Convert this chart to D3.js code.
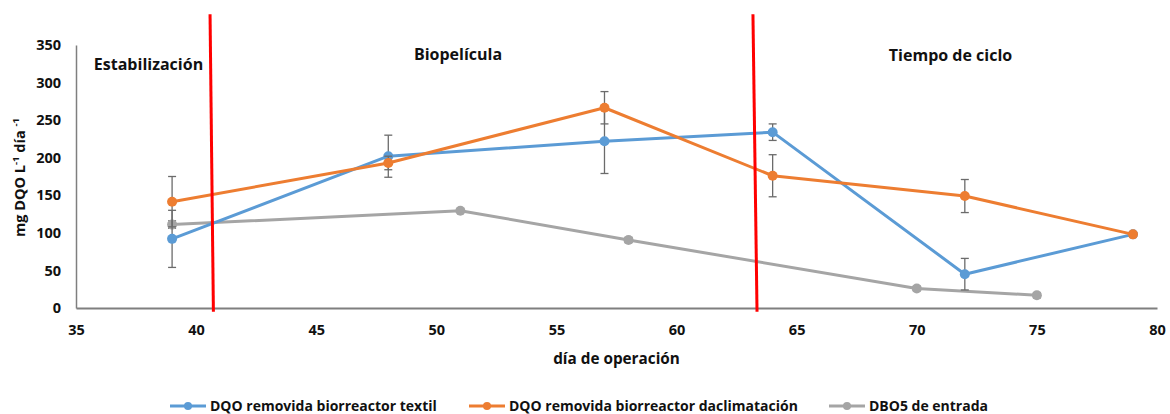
<!DOCTYPE html>
<html>
<head>
<meta charset="utf-8">
<script src="https://cdn.jsdelivr.net/npm/d3@7"></script>
<style>
  html, body { margin: 0; padding: 0; background: #fff; }
  svg { display: block; }
  text { font-family: "Open Sans", "Noto Sans", sans-serif; font-weight: bold; fill: #111; }
</style>
</head>
<body>
<svg id="chart" width="1170" height="414"></svg>
<script>
// Days of operation sampled for each series
const daysTextil = [39, 48, 57, 64, 72, 79];
const daysAclim  = [39, 48, 57, 64, 72, 79];
const daysDbo    = [39, 51, 58, 70, 75];

// COD removed (mg DQO L-1 d-1) and standard deviations
const textil    = [92, 202, 222, 234, 45, 98];
const textilErr = [38, 28, 43, 11, 21, 0];
const aclim     = [141.5, 193, 266.5, 176, 149, 98];
const aclimErr  = [33.5, 9, 21.5, 28, 22, 0];
const dbo       = [111, 129.5, 90.5, 26, 17];
const dboErr    = [5, 2, 3.5, 3, 3.5];

const seriesNames = [
  "DQO removida biorreactor textil",
  "DQO removida biorreactor daclimatación",
  "DBO5 de entrada"
];
const seriesColors = ["#5B9BD5", "#ED7D31", "#A5A5A5"];

const xTicks = [35, 40, 45, 50, 55, 60, 65, 70, 75, 80];
const yTicks = [0, 50, 100, 150, 200, 250, 300, 350];

// Phase boundaries (day at top / day at bottom of the marker line)
const phaseTop    = [40.58, 63.18];
const phaseBottom = [40.72, 63.35];
const phaseNames  = ["Estabilización", "Biopelícula", "Tiempo de ciclo"];

const svg = d3.select("#chart");
const FONT = '"Open Sans", "Noto Sans", sans-serif';

const x = d3.scaleLinear().domain([35, 80]).range([76, 1157]);
const y = d3.scaleLinear().domain([0, 350]).range([308, 45]);

// Axes (lines only, no tick marks)
const xAxis = svg.append("g").attr("transform", `translate(0,${y(0)})`)
  .call(d3.axisBottom(x).tickValues(xTicks).tickSize(0).tickPadding(17));
xAxis.select(".domain").attr("stroke", "#7f7f7f").attr("stroke-width", 2);
xAxis.selectAll("text").attr("font-size", 14.5).attr("fill", "#111")
  .attr("font-family", FONT).attr("font-weight", "bold");

const yAxis = svg.append("g").attr("transform", `translate(${x(35)},0)`)
  .call(d3.axisLeft(y).tickValues(yTicks).tickSize(0).tickPadding(15));
yAxis.select(".domain").attr("stroke", "#7f7f7f").attr("stroke-width", 1.5);
yAxis.selectAll("text").attr("font-size", 14.5).attr("fill", "#111")
  .attr("font-family", FONT).attr("font-weight", "bold");

// Axis titles
svg.append("text").attr("x", (x(35) + x(80)) / 2).attr("y", 364)
  .attr("text-anchor", "middle").attr("font-size", 15.3).text("día de operación");

const yt = svg.append("text")
  .attr("transform", `translate(25,${(y(0) + y(350)) / 2 + 1}) rotate(-90)`)
  .attr("text-anchor", "middle").attr("font-size", 14.5);
yt.append("tspan").text("mg DQO L");
yt.append("tspan").attr("font-size", 9.5).attr("dy", -6).text("-1");
yt.append("tspan").attr("dy", 6).text(" día ");
yt.append("tspan").attr("font-size", 9.5).attr("dy", -6).text("-1");

// Series
const series = [
  { days: daysTextil, vals: textil, err: textilErr },
  { days: daysAclim,  vals: aclim,  err: aclimErr },
  { days: daysDbo,    vals: dbo,    err: dboErr }
].map((s, i) => ({
  name: seriesNames[i], color: seriesColors[i],
  pts: s.days.map((d, j) => ({ d, v: s.vals[j], e: s.err[j] }))
}));

const line = d3.line().x(p => x(p.d)).y(p => y(p.v));

// Draw order: gray at the back, then blue, orange on top
const order = [2, 0, 1];
order.forEach(i => {
  const s = series[i];
  const g = svg.append("g");
  g.append("path").datum(s.pts).attr("d", line)
    .attr("fill", "none").attr("stroke", s.color).attr("stroke-width", 3)
    .attr("stroke-linejoin", "round").attr("stroke-linecap", "round");
  // error bars
  const eb = g.selectAll(".eb").data(s.pts.filter(p => p.e > 0)).enter().append("g")
    .attr("stroke", "#6b6b6b").attr("stroke-width", 1.3);
  eb.append("line").attr("x1", p => x(p.d)).attr("x2", p => x(p.d))
    .attr("y1", p => y(p.v + p.e)).attr("y2", p => y(p.v - p.e));
  eb.append("line").attr("x1", p => x(p.d) - 4).attr("x2", p => x(p.d) + 4)
    .attr("y1", p => y(p.v + p.e)).attr("y2", p => y(p.v + p.e));
  eb.append("line").attr("x1", p => x(p.d) - 4).attr("x2", p => x(p.d) + 4)
    .attr("y1", p => y(p.v - p.e)).attr("y2", p => y(p.v - p.e));
  g.selectAll("circle").data(s.pts).enter().append("circle")
    .attr("cx", p => x(p.d)).attr("cy", p => y(p.v)).attr("r", 5)
    .attr("fill", s.color);
});

// Phase separators
svg.selectAll(".phase").data(phaseTop).enter().append("line")
  .attr("x1", (d) => x(d)).attr("y1", y(391))
  .attr("x2", (d, i) => x(phaseBottom[i])).attr("y2", y(-5))
  .attr("stroke", "#FF0000").attr("stroke-width", 3);

// Phase labels
const phasePos = [[148.5, 70], [458, 60], [950.5, 61]];
svg.selectAll(".phaseLabel").data(phaseNames).enter().append("text")
  .attr("x", (d, i) => phasePos[i][0]).attr("y", (d, i) => phasePos[i][1])
  .attr("text-anchor", "middle").attr("font-size", 16).text(d => d);

// Legend
const legX = [170, 469, 829];
const lg = svg.selectAll(".leg").data(series).enter().append("g")
  .attr("transform", (d, i) => `translate(${legX[i]},406)`);
lg.append("line").attr("x1", 0).attr("x2", 36).attr("y1", 0).attr("y2", 0)
  .attr("stroke", d => d.color).attr("stroke-width", 3);
lg.append("circle").attr("cx", 18).attr("cy", 0).attr("r", 4).attr("fill", d => d.color);
lg.append("text").attr("x", 40).attr("y", 5).attr("font-size", 14).text(d => d.name);
</script>
</body>
</html>
